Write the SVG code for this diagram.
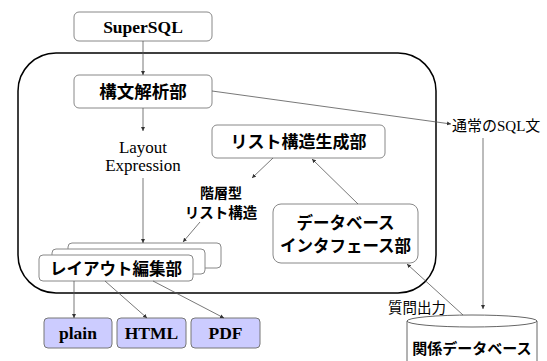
<svg xmlns="http://www.w3.org/2000/svg" width="547" height="361" viewBox="0 0 547 361">
<defs>
<style>
.box{fill:#fff;stroke:#888;stroke-width:1}
.out{fill:#ccccff;stroke:#777;stroke-width:1}
.ln{stroke:#555;stroke-width:0.8;fill:none}
.jb{font-family:"Noto Sans CJK JP",sans-serif;font-weight:bold;fill:#000}
.jn{font-family:"Noto Sans CJK JP",sans-serif;fill:#000}
.sb{font-family:"Liberation Serif","Noto Sans CJK JP",serif;font-weight:bold;fill:#000}
.sr{font-family:"Liberation Serif","Noto Sans CJK JP",serif;fill:#000}
</style>
<marker id="ah" viewBox="0 0 6 6" refX="6" refY="3" markerWidth="4" markerHeight="4" orient="auto" markerUnits="userSpaceOnUse">
<path d="M0,0 L6,3 L0,6 z" fill="#333"/>
</marker>
</defs>
<rect id="container" x="18" y="53" width="418" height="240" rx="38" ry="38" fill="none" stroke="#000" stroke-width="1.5"/>
<g id="supersql"><rect class="box" x="74" y="12" width="138" height="29" rx="5"/><text class="sb" x="143" y="33" font-size="17.5" text-anchor="middle">SuperSQL</text></g>
<g id="parser"><rect class="box" x="74" y="75" width="138" height="33" rx="5"/><text class="jb" x="143" y="98" font-size="17.5" text-anchor="middle">構文解析部</text></g>
<g id="layoutexpr"><text class="sr" x="143" y="153" font-size="17" text-anchor="middle">Layout</text><text class="sr" x="143" y="171" font-size="17" text-anchor="middle">Expression</text></g>
<g id="listgen"><rect class="box" x="212" y="125" width="173" height="33" rx="5"/><text class="jb" x="298.5" y="148" font-size="17" text-anchor="middle">リスト構造生成部</text></g>
<g id="hier"><text class="jb" x="221" y="198" font-size="14" text-anchor="middle">階層型</text><text class="jb" x="221" y="218" font-size="14.5" text-anchor="middle">リスト構造</text></g>
<g id="dbif"><rect class="box" x="273" y="204" width="145" height="59" rx="8"/><text class="jb" x="345.5" y="229" font-size="16.5" text-anchor="middle">データベース</text><text class="jb" x="345.5" y="252" font-size="16.5" text-anchor="middle">インタフェース部</text></g>
<g id="layout">
<rect class="box" x="68" y="243" width="153" height="25" rx="4"/>
<rect class="box" x="52" y="249" width="153" height="25" rx="4"/>
<rect class="box" x="39" y="255" width="154" height="26" rx="4"/>
<text class="jb" x="116" y="275" font-size="16.5" text-anchor="middle">レイアウト編集部</text>
</g>
<g id="plain"><rect class="out" x="44" y="318" width="68" height="30" rx="4"/><text class="sb" x="78" y="339" font-size="17.5" text-anchor="middle">plain</text></g>
<g id="html"><rect class="out" x="117" y="318" width="69" height="30" rx="4"/><text class="sb" x="151.5" y="339" font-size="17.5" text-anchor="middle">HTML</text></g>
<g id="pdf"><rect class="out" x="191" y="318" width="69" height="30" rx="4"/><text class="sb" x="225.5" y="339" font-size="17.5" text-anchor="middle">PDF</text></g>
<g id="sqltext"><text class="sr" x="452" y="131" font-size="15">通常のSQL文</text></g>
<g id="query"><text class="jn" x="388" y="313" font-size="14.5">質問出力</text></g>
<g id="rdb">
<rect x="407" y="321" width="130" height="40" fill="#fff"/>
<path d="M407,321 L407,361 M537,321 L537,361" stroke="#666" stroke-width="1" fill="none"/>
<ellipse cx="472" cy="321" rx="65" ry="6" fill="#fff" stroke="#666" stroke-width="1"/>
<text class="jb" x="472" y="354" font-size="15" text-anchor="middle">関係データベース</text>
</g>
<g id="connectors">
<line class="ln" x1="143" y1="41" x2="143" y2="75" marker-end="url(#ah)"/>
<line class="ln" x1="143" y1="108" x2="143" y2="131" marker-end="url(#ah)"/>
<line class="ln" x1="143" y1="178" x2="143" y2="243" marker-end="url(#ah)"/>
<line class="ln" x1="273" y1="158" x2="252" y2="178" marker-end="url(#ah)"/>
<line class="ln" x1="200" y1="222" x2="183" y2="242" marker-end="url(#ah)"/>
<line class="ln" x1="358" y1="204" x2="312" y2="159" marker-end="url(#ah)"/>
<line class="ln" x1="212" y1="91" x2="451" y2="124" marker-end="url(#ah)"/>
<line class="ln" x1="483" y1="138" x2="483" y2="309" marker-end="url(#ah)"/>
<line class="ln" x1="463" y1="315" x2="407" y2="264" marker-end="url(#ah)"/>
<line class="ln" x1="74" y1="281" x2="74" y2="318" stroke="#000" marker-end="url(#ah)"/>
<line class="ln" x1="105" y1="281" x2="147" y2="318" stroke="#000" marker-end="url(#ah)"/>
<line class="ln" x1="153" y1="281" x2="224" y2="318" stroke="#000" marker-end="url(#ah)"/>
</g>
</svg>
